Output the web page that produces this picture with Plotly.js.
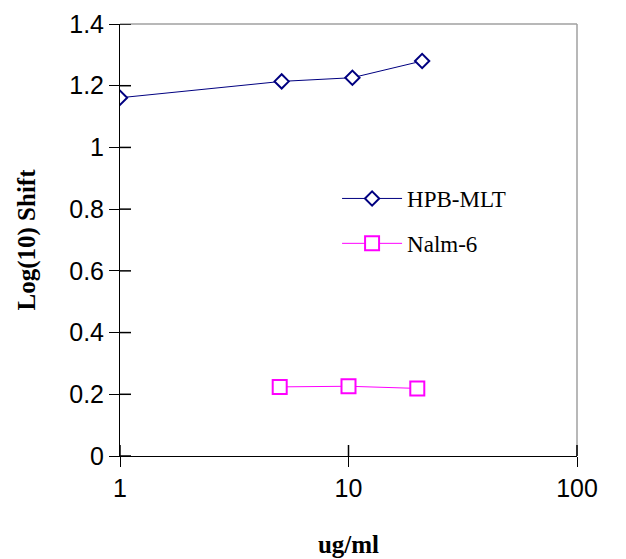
<!DOCTYPE html>
<html>
<head>
<meta charset="utf-8">
<script src="https://cdn.plot.ly/plotly-3.0.1.min.js"></script>
<style>html,body{margin:0;padding:0;background:#fff;}#chart{width:626px;height:559px;}</style>
</head>
<body>
<div id="chart"></div>
<script>
// Data
const hpbX = [1, 5.1, 10.4, 21];
const hpbY = [1.161, 1.214, 1.226, 1.280];
const nalmX = [5, 10, 20];
const nalmY = [0.224, 0.226, 0.219];
const xTicks = [1, 10, 100];
const xTickText = ['1', '10', '100'];
const yTicks = [0, 0.2, 0.4, 0.6, 0.8, 1, 1.2, 1.4];
const yTickText = ['0', '0.2', '0.4', '0.6', '0.8', '1', '1.2', '1.4'];

const traces = [
  {
    x: hpbX, y: hpbY, name: 'HPB-MLT', type: 'scatter', mode: 'lines+markers', legendgroup: 'a',
    line: {color: '#000080', width: 1},
    marker: {symbol: 'diamond', size: 11, color: '#ffffff', line: {color: '#000080', width: 2}}
  },
  {
    x: nalmX, y: nalmY, name: 'Nalm-6', type: 'scatter', mode: 'lines+markers', legendgroup: 'b',
    line: {color: '#ff00ff', width: 1},
    marker: {symbol: 'square', size: 14, color: '#ffffff', line: {color: '#ff00ff', width: 2}}
  }
];

const W = 626, H = 559;
const M = {l: 120, r: 49, t: 24, b: 103};
const plotW = W - M.l - M.r, plotH = H - M.t - M.b;
const xr = [0, 2];
const yr = [0, 1.4];
const inLen = 11; // inner part of the crossing tick marks (px)

// inner halves of crossing tick marks, placed from the tick arrays
const innerTicks = [];
yTicks.forEach(function (t) {
  innerTicks.push({type: 'line', layer: 'above', yref: 'y', y0: t, y1: t,
    xref: 'paper', x0: 0, x1: inLen / plotW,
    line: {color: '#000000', width: 1.5}});
});
xTicks.forEach(function (t) {
  const f = (Math.log10(t) - xr[0]) / (xr[1] - xr[0]);
  innerTicks.push({type: 'line', layer: 'above', xref: 'paper', x0: f, x1: f,
    yref: 'paper', y0: 0, y1: inLen / plotH,
    line: {color: '#000000', width: 1.5}});
});

const layout = {
  width: W, height: H,
  margin: M,
  paper_bgcolor: '#ffffff', plot_bgcolor: '#ffffff',
  showlegend: true,
  legend: {
    x: 0.475, y: 0.544, xanchor: 'left', yanchor: 'middle',
    font: {family: 'Liberation Serif, Times New Roman, serif', size: 23, color: '#000'},
    bgcolor: 'rgba(0,0,0,0)', itemwidth: 60, tracegroupgap: 12
  },
  xaxis: {
    type: 'log', range: xr, tickvals: xTicks, ticktext: xTickText,
    ticks: 'outside', ticklen: 10, tickcolor: '#000', tickwidth: 1,
    showline: true, linecolor: '#000', linewidth: 1, showgrid: false, zeroline: false,
    tickfont: {family: 'Liberation Sans, Arial, sans-serif', size: 25, color: '#000'},
    title: {text: 'ug/ml', font: {family: 'Liberation Serif, Times New Roman, serif', size: 25, color: '#000', weight: 'bold'}, standoff: 34}
  },
  yaxis: {
    range: yr, tickvals: yTicks, ticktext: yTickText,
    ticks: 'outside', ticklen: 10, tickcolor: '#000', tickwidth: 1,
    showline: true, linecolor: '#000', linewidth: 1, showgrid: false, zeroline: false,
    tickfont: {family: 'Liberation Sans, Arial, sans-serif', size: 25, color: '#000'},
    title: {text: 'Log(10) Shift', font: {family: 'Liberation Serif, Times New Roman, serif', size: 25, color: '#000', weight: 'bold'}, standoff: 26}
  },
  shapes: [
    {type: 'line', xref: 'paper', yref: 'paper', x0: 0, x1: 1, y0: 1, y1: 1, line: {color: '#a0a0a0', width: 1.5}},
    {type: 'line', xref: 'paper', yref: 'paper', x0: 1, x1: 1, y0: 0, y1: 1, line: {color: '#a0a0a0', width: 1.5}}
  ].concat(innerTicks)
};

Plotly.newPlot('chart', traces, layout, {displayModeBar: false, staticPlot: true});
</script>
</body>
</html>
